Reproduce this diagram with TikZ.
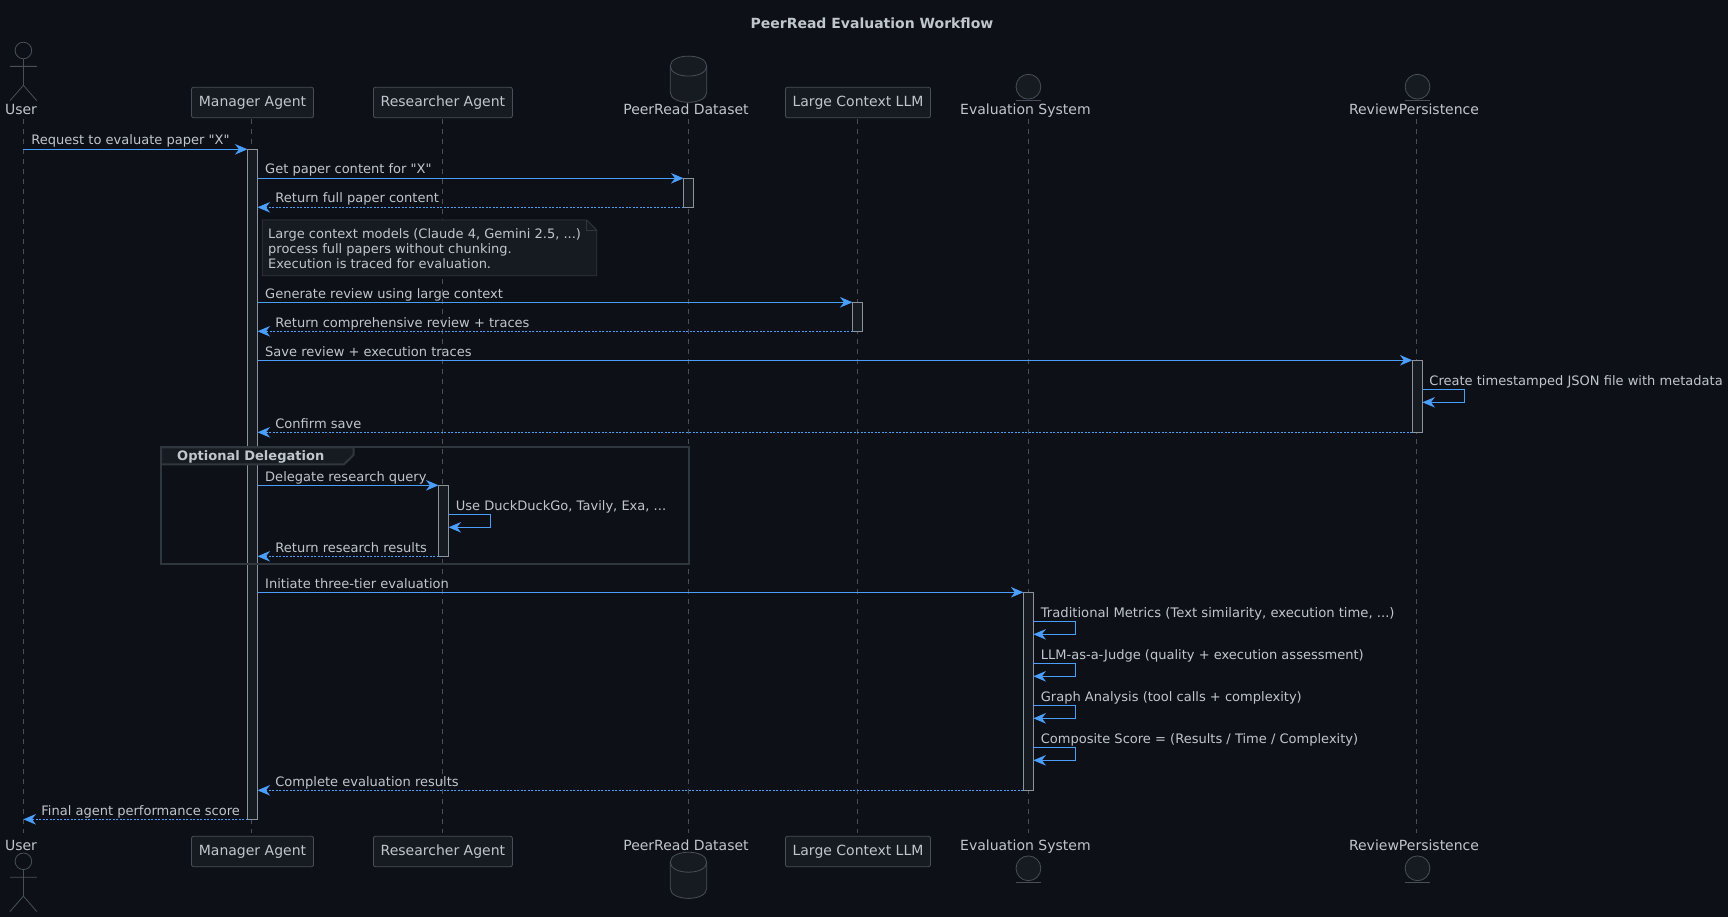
\documentclass[tikz,border=0pt]{standalone}
\usepackage{fontspec}
\setmainfont{DejaVu Sans}[Ligatures=TeXOff]
\usetikzlibrary{arrows.meta}
\definecolor{canvas}{HTML}{0D1117}
\definecolor{panel}{HTML}{161B22}
\definecolor{edge}{HTML}{484F58}
\definecolor{frameline}{HTML}{30363D}
\definecolor{barline}{HTML}{8B949E}
\definecolor{ink}{HTML}{C0C6CE}
\definecolor{wire}{HTML}{4A9EFF}
\tikzset{
  part/.style={draw=edge, fill=panel, rounded corners=2pt, line width=0.8pt, minimum height=30.4pt, inner sep=0pt, text=ink, text height=11.5pt, text depth=3pt},
  partlabel/.style={anchor=base, text=ink, inner sep=0pt},
  lifeline/.style={draw=edge, line width=0.8pt, dash pattern=on 5pt off 5pt},
  activebar/.style={draw=barline, fill=panel, line width=0.8pt},
  msg/.style={draw=wire, line width=1pt, -{Stealth[length=12.5pt, width=10.5pt, inset=4pt]}},
  ret/.style={msg, dash pattern=on 2pt off 1.5pt},
  lbl/.style={anchor=base west, text=ink, inner sep=0pt, font=\fontsize{13.03}{15}\selectfont},
  actor/.pic={
    \draw[draw=edge, line width=0.8pt] (0,0) circle (8.3pt);
    \draw[draw=edge, line width=0.8pt] (0,8.3) -- (0,34.8) (-13.4,15.9) -- (13.4,15.9) (-13.4,50.2) -- (0,34.8) -- (13.4,50.2);
  },
  dbase/.pic={
    \draw[draw=edge, fill=panel, line width=0.8pt] (-18.2,-13.1) -- (-18.2,13.1) .. controls (-18.2,26.4) and (18.2,26.4) .. (18.2,13.1) -- (18.2,-13.1) .. controls (18.2,-26.4) and (-18.2,-26.4) .. cycle;
    \draw[draw=edge, line width=0.8pt] (-18.2,-13.1) .. controls (-18.2,0.2) and (18.2,0.2) .. (18.2,-13.1);
  },
  entity/.pic={
    \draw[draw=edge, fill=panel, line width=0.8pt] (0,0) circle (12.4pt);
    \draw[draw=edge, line width=0.8pt] (-12.4,13.7) -- (12.4,13.7);
  }
}
\begin{document}
\begin{tikzpicture}[x=1pt, y=-1pt, font=\fontsize{14}{15}\selectfont]
  \fill[canvas] (0,0) rectangle (1728,917);
  \useasboundingbox (0,0) rectangle (1728,917);
  \node[text=ink, inner sep=0pt] (title) at (872,23) {\bfseries PeerRead Evaluation Workflow};

  \foreach \n/\x in {U/23.4, M/251.5, R/442.5, P/688.5, L/857.5, E/1028.6, V/1416.4} {
    \coordinate (life\n a) at (\x,119);
    \coordinate (life\n b) at (\x,833);
    \draw[lifeline] (life\n a) -- (life\n b);
  }

  \pic at (23.4,50.5) {actor};
  \pic at (23.4,861.3) {actor};
  \pic at (688.5,79.2) {dbase};
  \pic at (688.5,875.3) {dbase};
  \pic at (1028.4,86.7) {entity};
  \pic at (1028.4,868.3) {entity};
  \pic at (1417.5,86.7) {entity};
  \pic at (1417.5,868.3) {entity};

  \node[partlabel] (userTop) at (21,114.5) {User};
  \node[partlabel] (userBot) at (21,850) {User};
  \node[part, minimum width=122pt] (mgrTop) at (252.5,102.5) {Manager Agent};
  \node[part, minimum width=122pt] (mgrBot) at (252.5,851.5) {Manager Agent};
  \node[part, minimum width=139pt] (resTop) at (442.9,102.5) {Researcher Agent};
  \node[part, minimum width=139pt] (resBot) at (442.9,851.5) {Researcher Agent};
  \node[partlabel] (peerTop) at (686,114.5) {PeerRead Dataset};
  \node[partlabel] (peerBot) at (686,850) {PeerRead Dataset};
  \node[part, minimum width=145pt] (llmTop) at (858,102.5) {Large Context LLM};
  \node[part, minimum width=145pt] (llmBot) at (858,851.5) {Large Context LLM};
  \node[partlabel] (evalTop) at (1025.4,114.5) {Evaluation System};
  \node[partlabel] (evalBot) at (1025.4,850) {Evaluation System};
  \node[partlabel] (revTop) at (1414,114.5) {ReviewPersistence};
  \node[partlabel] (revBot) at (1414,850) {ReviewPersistence};

  \filldraw[activebar] (247.5,149.3) rectangle (257.5,819.3);
  \filldraw[activebar] (683.5,178.3) rectangle (693.5,207.3);
  \filldraw[activebar] (852.5,302.3) rectangle (862.5,331.3);
  \filldraw[activebar] (1412.4,360.3) rectangle (1422.4,432.3);
  \filldraw[activebar] (438.5,485.3) rectangle (448.5,556.3);
  \filldraw[activebar] (1023.4,592.3) rectangle (1033.4,790.3);

  \draw[draw=frameline, fill=panel, line width=0.8pt] (262.2,220) -- (586.7,220) -- (596.7,230) -- (596.7,275.7) -- (262.2,275.7) -- cycle;
  \draw[draw=frameline, line width=0.8pt] (586.7,220) -- (586.7,230) -- (596.7,230);
  \node[anchor=west, align=left, text=ink, inner sep=0pt, font=\fontsize{13}{15}\selectfont] (note) at (268,248.7) {Large context models (Claude 4, Gemini 2.5, ...)\\process full papers without chunking.\\Execution is traced for evaluation.};

  \draw[draw=frameline, line width=2pt] (161,447.3) rectangle (689,564.3);
  \draw[draw=frameline, fill=panel, line width=2pt] (161,447.3) -- (353.5,447.3) -- (353.5,455) -- (344,464.3) -- (161,464.3) -- cycle;
  \node[lbl] (optLbl) at (177,460) {\bfseries Optional Delegation};

  \coordinate (a1) at (23.4,149.3); \coordinate (b1) at (247.5,149.3);
  \draw[msg] (a1) -- (b1);
  \node[lbl] (l1) at (31.2,145) {Request to evaluate paper "X"};
  \coordinate (a2) at (257.5,178.3); \coordinate (b2) at (683.5,178.3);
  \draw[msg] (a2) -- (b2);
  \node[lbl] (l2) at (265,174) {Get paper content for "X"};
  \coordinate (a3) at (683.5,207.3); \coordinate (b3) at (257.5,207.3);
  \draw[ret] (a3) -- (b3);
  \node[lbl] (l3) at (275.2,203) {Return full paper content};
  \coordinate (a4) at (257.5,302.3); \coordinate (b4) at (852.5,302.3);
  \draw[msg] (a4) -- (b4);
  \node[lbl] (l4) at (265,298) {Generate review using large context};
  \coordinate (a5) at (852.5,331.3); \coordinate (b5) at (257.5,331.3);
  \draw[ret] (a5) -- (b5);
  \node[lbl] (l5) at (275.2,327) {Return comprehensive review + traces};
  \coordinate (a6) at (257.5,360.3); \coordinate (b6) at (1412.4,360.3);
  \draw[msg] (a6) -- (b6);
  \node[lbl] (l6) at (265,356) {Save review + execution traces};
  \coordinate (a7) at (1422.4,389.3); \coordinate (b7) at (1422.4,402.3);
  \draw[msg] (a7) -- ++(42,0) |- (b7);
  \node[lbl] (l7) at (1429.2,385) {Create timestamped JSON file with metadata};
  \coordinate (a8) at (1412.4,432.3); \coordinate (b8) at (257.5,432.3);
  \draw[ret] (a8) -- (b8);
  \node[lbl] (l8) at (275.2,428) {Confirm save};
  \coordinate (a9) at (257.5,485.3); \coordinate (b9) at (438.5,485.3);
  \draw[msg] (a9) -- (b9);
  \node[lbl] (l9) at (265,481) {Delegate research query};
  \coordinate (a10) at (448.5,514.3); \coordinate (b10) at (448.5,527.3);
  \draw[msg] (a10) -- ++(42,0) |- (b10);
  \node[lbl] (l10) at (455.7,510) {Use DuckDuckGo, Tavily, Exa, ...};
  \coordinate (a11) at (438.5,556.3); \coordinate (b11) at (257.5,556.3);
  \draw[ret] (a11) -- (b11);
  \node[lbl] (l11) at (275.2,552) {Return research results};
  \coordinate (a12) at (257.5,592.3); \coordinate (b12) at (1023.4,592.3);
  \draw[msg] (a12) -- (b12);
  \node[lbl] (l12) at (265,588) {Initiate three-tier evaluation};
  \coordinate (a13) at (1033.4,621.3); \coordinate (b13) at (1033.4,634.3);
  \draw[msg] (a13) -- ++(42,0) |- (b13);
  \node[lbl, font=\fontsize{13.16}{15}\selectfont] (l13) at (1040.6,617) {Traditional Metrics (Text similarity, execution time, ...)};
  \coordinate (a14) at (1033.4,663.3); \coordinate (b14) at (1033.4,676.3);
  \draw[msg] (a14) -- ++(42,0) |- (b14);
  \node[lbl] (l14) at (1040.6,659) {LLM-as-a-Judge (quality + execution assessment)};
  \coordinate (a15) at (1033.4,705.3); \coordinate (b15) at (1033.4,718.3);
  \draw[msg] (a15) -- ++(42,0) |- (b15);
  \node[lbl] (l15) at (1040.6,701) {Graph Analysis (tool calls + complexity)};
  \coordinate (a16) at (1033.4,747.3); \coordinate (b16) at (1033.4,760.3);
  \draw[msg] (a16) -- ++(42,0) |- (b16);
  \node[lbl] (l16) at (1040.6,743) {Composite Score = (Results / Time / Complexity)};
  \coordinate (a17) at (1023.4,790.3); \coordinate (b17) at (257.5,790.3);
  \draw[ret] (a17) -- (b17);
  \node[lbl] (l17) at (275.2,786) {Complete evaluation results};
  \coordinate (a18) at (247.5,819.3); \coordinate (b18) at (23.4,819.3);
  \draw[ret] (a18) -- (b18);
  \node[lbl] (l18) at (41.2,815) {Final agent performance score};
\end{tikzpicture}
\end{document}
